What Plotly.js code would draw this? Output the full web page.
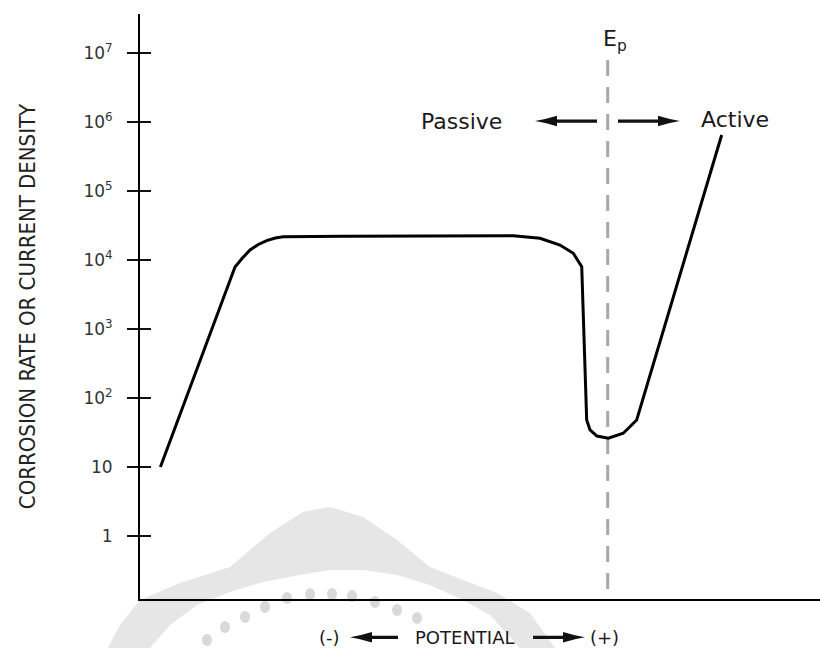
<!DOCTYPE html>
<html>
<head>
<meta charset="utf-8">
<script src="https://cdn.plot.ly/plotly-3.0.1.min.js"></script>
<style>html,body{margin:0;padding:0;background:#fff;}#chart{width:820px;height:648px;}</style>
</head>
<body>
<div id="chart"></div>
<script>
// ---- data (potential in arbitrary units 0-100, corrosion rate / current density) ----
var potential = [3.0, 13.97, 15.0, 16.18, 17.4, 18.63, 19.9, 21.07, 30.0, 38.68, 47.0, 54.9, 58.82, 61.76, 63.72, 64.96, 65.69, 66.18, 67.2, 68.87, 71.07, 73.04, 85.54];
var currentDensity = [10, 7924, 10500, 13960, 16800, 19050, 20800, 21770, 22050, 22280, 22550, 22490, 20620, 16490, 12500, 7990, 48.0, 34.4, 28.1, 26.1, 30.8, 48.0, 648600];
var passivationPotential = 68.78;           // E_p
var epLineRate = [7.9e6, 0.12];             // extent of the dashed E_p line
var yTickVals = [1, 10, 100, 1e3, 1e4, 1e5, 1e6, 1e7];
var yTickText = ['1', '10', '10<sup>2</sup>', '10<sup>3</sup>', '10<sup>4</sup>', '10<sup>5</sup>', '10<sup>6</sup>', '10<sup>7</sup>'];
var yTitle = 'CORROSION RATE OR CURRENT DENSITY';
var xLabelLeft = '(-)', xLabelMid = 'POTENTIAL', xLabelRight = '(+)';
var passiveLabel = 'Passive', activeLabel = 'Active', epLabel = 'E<sub>p</sub>';

var yRange = [-0.913, 7.565];

var traces = [
  {
    x: [passivationPotential, passivationPotential], y: epLineRate,
    mode: 'lines', line: {color: '#a8a8a8', width: 3, dash: '16px,11px'},
    hoverinfo: 'skip', showlegend: false
  },
  {
    x: potential, y: currentDensity,
    mode: 'lines', line: {color: '#000', width: 3, shape: 'linear'},
    showlegend: false
  },
  {
    x: [0], y: [1], yaxis: 'y2', mode: 'markers', marker: {opacity: 0}, hoverinfo: 'skip', showlegend: false
  }
];

function arrowPath(len, dir) {
  var h = 22 * dir, t = len * dir, q = 10 * dir;
  return 'M0,0 Q' + q + ',1.5 ' + h + ',5.2 L' + h + ',1.6 L' + t + ',1.6 L' + t + ',-1.6 L' + h + ',-1.6 L' + h + ',-5.2 Q' + q + ',-1.5 0,0 Z';
}
function arrowShape(xTip, yPaper, len, dir) {
  return {
    type: 'path', xref: 'x', yref: 'paper', xsizemode: 'pixel', ysizemode: 'pixel',
    xanchor: xTip, yanchor: yPaper, path: arrowPath(len, dir),
    fillcolor: '#111', line: {width: 0}
  };
}

// watermark (decorative, light grey)
function pp(px, py) { return ((px - 140) / 680).toFixed(4) + ',' + ((599 - py) / 585).toFixed(4); }
var outer = [[108,648],[120,625],[140,600],[180,583],[230,567],[270,533],[303,512],[330,507],[363,517],[397,540],[430,567],[463,580],[497,593],[530,613],[555,648]];
var inner = [[520,648],[490,615],[463,600],[430,585],[397,575],[363,570],[330,570],[300,575],[263,582],[230,592],[197,605],[170,625],[150,648]];
var wmPath = 'M' + outer.concat(inner).map(function (p) { return pp(p[0], p[1]); }).join(' L') + ' Z';
var dots = [[207,640],[225,627],[245,617],[265,607],[287,598],[310,594],[332,594],[352,596],[375,602],[397,610],[417,618]];

var shapes = [
  {type: 'path', xref: 'paper', yref: 'paper', path: wmPath, fillcolor: '#e6e6e6', line: {width: 0}, layer: 'below'}
];
dots.forEach(function (d) {
  shapes.push({type: 'circle', xref: 'paper', yref: 'paper', xsizemode: 'pixel', ysizemode: 'pixel',
    xanchor: (d[0] - 140) / 680, yanchor: (599 - d[1]) / 585, x0: -5, x1: 5, y0: -6, y1: 6,
    fillcolor: '#d9d9d9', line: {width: 0}, layer: 'below'});
});
shapes.push(arrowShape(58.09, 0.817, 62, 1));
shapes.push(arrowShape(79.41, 0.817, 62, -1));
shapes.push(arrowShape(30.88, -0.0655, 48, 1));
shapes.push(arrowShape(65.44, -0.0655, 52, -1));

var txtFont = {family: 'DejaVu Sans', size: 22, color: '#1a1a1a'};
var botFont = {family: 'DejaVu Sans', size: 18, color: '#1a1a1a'};
var annotations = [
  {x: 47.35, y: 0.817, xref: 'x', yref: 'paper', text: passiveLabel, showarrow: false, font: txtFont, xanchor: 'center', yanchor: 'middle'},
  {x: 87.57, y: 0.819, xref: 'x', yref: 'paper', text: activeLabel, showarrow: false, font: txtFont, xanchor: 'center', yanchor: 'middle'},
  {x: 69.9, y: 0.955, xref: 'x', yref: 'paper', text: epLabel, showarrow: false, font: {family: 'DejaVu Sans', size: 22, color: '#1a1a1a'}, xanchor: 'center', yanchor: 'middle'},
  {x: 27.94, y: -0.065, xref: 'x', yref: 'paper', text: xLabelLeft, showarrow: false, font: botFont, xanchor: 'center', yanchor: 'middle'},
  {x: 47.79, y: -0.065, xref: 'x', yref: 'paper', text: xLabelMid, showarrow: false, font: botFont, xanchor: 'center', yanchor: 'middle'},
  {x: 68.31, y: -0.065, xref: 'x', yref: 'paper', text: xLabelRight, showarrow: false, font: botFont, xanchor: 'center', yanchor: 'middle'}
];

var layout = {
  width: 820, height: 648,
  margin: {l: 140, r: 0, t: 14, b: 49, pad: 0},
  paper_bgcolor: '#fff', plot_bgcolor: 'rgba(0,0,0,0)',
  showlegend: false,
  xaxis: {range: [0, 100], showline: true, linecolor: '#000', linewidth: 2, ticks: '', showticklabels: false,
          showgrid: false, zeroline: false, fixedrange: true},
  yaxis: {type: 'log', range: yRange, tickmode: 'array', tickvals: yTickVals, ticktext: yTickText,
          ticks: 'outside', ticklen: 11, tickwidth: 1.5, tickcolor: '#111',
          showline: true, linecolor: '#000', linewidth: 2, showgrid: false, zeroline: false,
          ticklabelstandoff: 11,
          tickfont: {family: 'DejaVu Sans', size: 17, color: '#333'},
          title: {text: yTitle, standoff: 42,
                  font: {family: 'DejaVu Sans Condensed, Liberation Sans Narrow, DejaVu Sans, sans-serif', stretch: 'condensed', size: 22, color: '#222'}},
          fixedrange: true},
  yaxis2: {type: 'log', range: yRange, overlaying: 'y', side: 'left', tickmode: 'array', tickvals: yTickVals,
           ticks: 'inside', ticklen: 11, tickwidth: 1.5, tickcolor: '#111', showticklabels: false,
           showline: false, showgrid: false, zeroline: false, fixedrange: true},
  shapes: shapes,
  annotations: annotations
};

Plotly.newPlot('chart', traces, layout, {displayModeBar: false, staticPlot: true});
</script>
</body>
</html>
